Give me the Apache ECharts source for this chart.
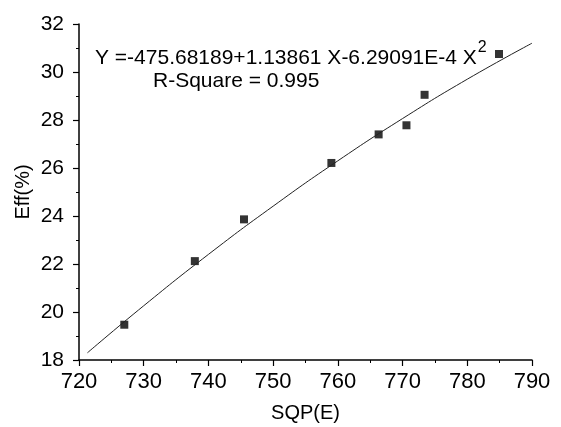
<!DOCTYPE html>
<html>
<head>
<meta charset="utf-8">
<script src="https://cdn.jsdelivr.net/npm/echarts@6/dist/echarts.min.js"></script>
<style>html,body{margin:0;padding:0;background:#fff}#c{width:561px;height:427px}</style>
</head>
<body>
<div id="c"></div>
<script>
// Measured points (SQP(E), Eff %)
const sqp = [727.0, 737.9, 745.5, 759.0, 766.3, 770.6, 773.4, 784.9];
const eff = [19.47, 22.12, 23.86, 26.21, 27.40, 27.78, 29.05, 30.75];
// Fitted curve
const fitX = [721.3, 730, 740, 750, 760, 770, 780, 790];
const fitY = [18.30, 20.26, 22.40, 24.41, 26.30, 28.06, 29.70, 31.20];
const xTicks = [720, 730, 740, 750, 760, 770, 780, 790];
const yTicks = [18, 20, 22, 24, 26, 28, 30, 32];
const eqText = 'Y =-475.68189+1.13861 X-6.29091E-4 X';
const r2Text = 'R-Square = 0.995';

const FONT = '"Liberation Sans", Arial, sans-serif';
const chart = echarts.init(document.getElementById('c'), null, {renderer: 'canvas'});
chart.setOption({
  animation: false,
  backgroundColor: '#fff',
  grid: {left: 79, right: 29, top: 24, bottom: 67, containLabel: false, outerBoundsMode: 'none'},
  xAxis: {
    type: 'value', min: xTicks[0], max: xTicks[xTicks.length - 1], interval: 10,
    name: 'SQP(E)', nameLocation: 'middle', nameGap: 43, nameMoveOverlap: false,
    nameTextStyle: {fontFamily: FONT, fontSize: 20, color: '#000'},
    axisLine: {show: true, lineStyle: {color: '#000', width: 1.5}},
    axisTick: {show: true, length: 6, lineStyle: {color: '#000', width: 1.2}},
    minorTick: {show: true, splitNumber: 2, length: 3, lineStyle: {color: '#000', width: 1}},
    axisLabel: {fontFamily: FONT, fontSize: 22, color: '#000', margin: 11},
    splitLine: {show: false}
  },
  yAxis: {
    type: 'value', min: yTicks[0], max: yTicks[yTicks.length - 1], interval: 2,
    name: 'Eff(%)', nameLocation: 'middle', nameGap: 46, nameRotate: 90, nameMoveOverlap: false,
    nameTextStyle: {fontFamily: FONT, fontSize: 20, color: '#000'},
    axisLine: {show: true, lineStyle: {color: '#000', width: 1.5}},
    axisTick: {show: true, length: 6, lineStyle: {color: '#000', width: 1.2}},
    minorTick: {show: true, splitNumber: 2, length: 3, lineStyle: {color: '#000', width: 1}},
    axisLabel: {fontFamily: FONT, fontSize: 21, color: '#000', margin: 15},
    splitLine: {show: false}
  },
  series: [
    {
      type: 'line', smooth: true, showSymbol: false, silent: true,
      data: fitX.map((x, i) => [x, fitY[i]]),
      lineStyle: {color: '#222', width: 1}
    },
    {
      type: 'scatter', symbol: 'rect', symbolSize: 8,
      data: sqp.map((x, i) => [x, eff[i]]),
      itemStyle: {color: '#000'}
    }
  ],
  graphic: [
    {type: 'text', left: 95, top: 40, style: {
      text: '{m|' + eqText + '}{s|2}',
      rich: {
        m: {fontFamily: FONT, fontSize: 21, fill: '#000', verticalAlign: 'bottom'},
        s: {fontFamily: FONT, fontSize: 16, fill: '#000', verticalAlign: 'top', padding: [0,0,13,1]}
      }
    }},
    {type: 'text', left: 153, top: 71, style: {
      text: r2Text, fontFamily: FONT, fontSize: 21, fill: '#000'
    }}
  ]
});
</script>
</body>
</html>
